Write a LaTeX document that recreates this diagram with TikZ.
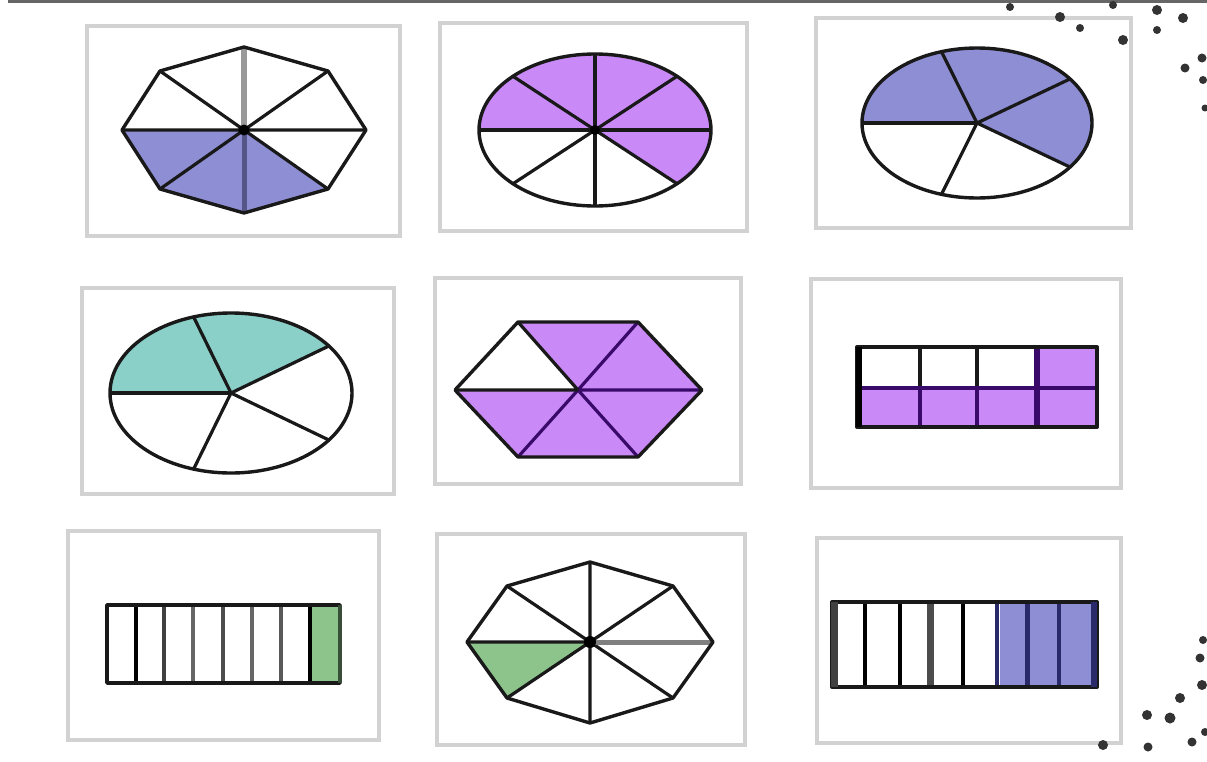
\documentclass[tikz,border=0pt]{standalone}
\usetikzlibrary{calc}
\definecolor{frameg}{HTML}{D2D2D2}
\definecolor{peri}{HTML}{8E8ED4}
\definecolor{lilac}{HTML}{C98AF7}
\definecolor{teal2}{HTML}{8ACFC8}
\definecolor{green2}{HTML}{8CC48C}
\definecolor{navy2}{HTML}{2A2A6A}
\definecolor{dpurple}{HTML}{3A0A6A}
\tikzset{
  panel/.style={draw=frameg, line width=4pt, fill=white},
  edge/.style={draw=black!90, line width=3.4pt, line join=round},
  spoke/.style={draw=black!90, line width=3.2pt},
  hub/.style={fill=black},
  dotmark/.style={fill=black!80}
}
\begin{document}
\begin{tikzpicture}[x=1pt,y=-1pt]
\path[fill=white] (0,0) rectangle (1207,761);
\useasboundingbox (0,0) rectangle (1207,761);
% top rule
\draw[draw=black!60, line width=3.5pt] (8,1.5) -- (1207,1.5);

% ---------- panel frames ----------
\draw[panel] (87,26) rectangle (400,236);
\draw[panel] (440,23) rectangle (747,231);
\draw[panel] (816,18) rectangle (1131,228);
\draw[panel] (82,288) rectangle (394,494);
\draw[panel] (435,278) rectangle (741,484);
\draw[panel] (811,279) rectangle (1121,488);
\draw[panel] (68,531) rectangle (379,740);
\draw[panel] (437,534) rectangle (745,745);
\draw[panel] (817,538) rectangle (1121,743);

% ---------- panel 1: octagon, 3/8 ----------
\coordinate (oa) at (244,130);
\coordinate (oa0) at (366,130);
\coordinate (oa1) at (328,189);
\coordinate (oa2) at (244,213);
\coordinate (oa3) at (160,189);
\coordinate (oa4) at (122,130);
\coordinate (oa5) at (160,71);
\coordinate (oa6) at (244,47);
\coordinate (oa7) at (328,71);
\fill[peri] (oa) -- (oa1) -- (oa2) -- (oa3) -- (oa4) -- cycle;
\draw[spoke] (oa) -- (oa0) (oa) -- (oa1) (oa) -- (oa3) (oa) -- (oa4) (oa) -- (oa5) (oa) -- (oa7);
\draw[draw=black!40, line width=5.5pt] (oa) -- (oa6);
\draw[draw=navy2!80, line width=5pt] (oa) -- (oa2);
\draw[edge] (oa0) -- (oa1) -- (oa2) -- (oa3) -- (oa4) -- (oa5) -- (oa6) -- (oa7) -- cycle;
\fill[hub] (oa) circle (5.5);

% ---------- panel 2: ellipse, 5/8 ----------
\coordinate (eb) at (595,130);
\begin{scope}
  \clip (eb) -- ($(eb)+(45:348 and 228)$) -- ($(eb)+(0:348 and 228)$) -- ($(eb)+(-45:348 and 228)$) -- ($(eb)+(-90:348 and 228)$) -- ($(eb)+(-135:348 and 228)$) -- ($(eb)+(-180:348 and 228)$) -- cycle;
  \fill[lilac] (eb) ellipse (116 and 76);
\end{scope}
\foreach \a in {0,45,...,315}{
  \draw[spoke] (eb) -- ($(eb)+(\a:116 and 76)$);
}
\draw[edge] (eb) ellipse (116 and 76);
\fill[hub] (eb) circle (5);

% ---------- panel 3: ellipse, 3/5 ----------
\coordinate (ec) at (977,123);
\begin{scope}
  \clip (ec) -- ($(ec)+(36:345 and 225)$) -- ($(ec)+(-36:345 and 225)$) -- ($(ec)+(-108:345 and 225)$) -- ($(ec)+(-180:345 and 225)$) -- cycle;
  \fill[peri] (ec) ellipse (115 and 75);
\end{scope}
\foreach \a in {36,108,180,252,324}{
  \draw[spoke] (ec) -- ($(ec)+(\a:115 and 75)$);
}
\draw[edge] (ec) ellipse (115 and 75);

% ---------- panel 4: ellipse, 2/5 ----------
\coordinate (ed) at (231,393);
\begin{scope}
  \clip (ed) -- ($(ed)+(-36:363 and 240)$) -- ($(ed)+(-108:363 and 240)$) -- ($(ed)+(-180:363 and 240)$) -- cycle;
  \fill[teal2] (ed) ellipse (121 and 80);
\end{scope}
\foreach \a in {36,108,180,252,324}{
  \draw[spoke] (ed) -- ($(ed)+(\a:121 and 80)$);
}
\draw[edge] (ed) ellipse (121 and 80);

% ---------- panel 5: hexagon, 5/6 ----------
\coordinate (hx) at (578,390);
\coordinate (hx0) at (702,390);
\coordinate (hx1) at (638,457);
\coordinate (hx2) at (518,457);
\coordinate (hx3) at (455,390);
\coordinate (hx4) at (518,322);
\coordinate (hx5) at (638,322);
\fill[lilac] (hx) -- (hx4) -- (hx5) -- (hx0) -- (hx1) -- (hx2) -- (hx3) -- cycle;
\draw[spoke, draw=dpurple] (hx) -- (hx0) (hx) -- (hx1) (hx) -- (hx2) (hx) -- (hx5);
\draw[spoke] (hx) -- (hx3) (hx) -- (hx4);
\draw[edge] (hx0) -- (hx1) -- (hx2) -- (hx3) -- (hx4) -- (hx5) -- cycle;

% ---------- panel 6: 2x4 grid, 5/8 ----------
\fill[lilac] (1037,347) rectangle (1097,388);
\fill[lilac] (857,388) rectangle (1097,427);
\draw[spoke] (920,347) -- (920,388) (977,347) -- (977,388);
\draw[spoke, draw=dpurple] (920,388) -- (920,427) (977,388) -- (977,427);
\draw[draw=dpurple, line width=5.5pt] (1037,347) -- (1037,427);
\draw[spoke, draw=dpurple] (857,388) -- (1097,388);
\draw[edge, line width=4pt] (857,347) rectangle (1097,427);
\draw[draw=black, line width=5.5pt] (859,347) -- (859,427);

% ---------- panel 7: bar of 8, 1/8 ----------
\fill[green2] (310,605) rectangle (340,683);
\foreach \x/\c in {136/black, 164/black!75, 193/black!60, 223/black!70, 252/black!60, 281/black!65, 310/black}{
  \draw[draw=\c, line width=4.5pt] (\x,605) -- (\x,683);
}
\draw[edge, line width=3.8pt] (107,605) rectangle (340,683);
\draw[draw=green2!40!black, line width=3.8pt] (340,605) -- (340,683);

% ---------- panel 8: octagon, 1/8 ----------
\coordinate (og) at (590,642);
\coordinate (og0) at (713,642);
\coordinate (og1) at (673,698);
\coordinate (og2) at (590,723);
\coordinate (og3) at (507,698);
\coordinate (og4) at (467,642);
\coordinate (og5) at (507,586);
\coordinate (og6) at (590,562);
\coordinate (og7) at (673,586);
\fill[green2] (og) -- (og3) -- (og4) -- cycle;
\draw[spoke] (og) -- (og1) (og) -- (og2) (og) -- (og3) (og) -- (og4) (og) -- (og5) (og) -- (og6) (og) -- (og7);
\draw[draw=black!50, line width=5pt] (og) -- (og0);
\draw[edge] (og0) -- (og1) -- (og2) -- (og3) -- (og4) -- (og5) -- (og6) -- (og7) -- cycle;
\fill[hub] (og) circle (6);

% ---------- panel 9: bar of 8, 3/8 ----------
\fill[peri] (1000,602) rectangle (1097,687);
\foreach \x/\c/\w in {865/black/4.5pt, 900/black/4.5pt, 930/black!70/7pt, 963/black/4.5pt, 997/navy2/4.5pt, 1027/navy2/5pt, 1059/navy2/4.5pt}{
  \draw[draw=\c, line width=\w] (\x,602) -- (\x,687);
}
\draw[edge, line width=4pt] (832,602) rectangle (1097,687);
\draw[draw=black!75, line width=7pt] (834,602) -- (834,687);
\draw[draw=navy2, line width=6pt] (1094,602) -- (1094,687);

% ---------- scattered dots ----------
\foreach \p/\r in {(1010,7)/4,(1060,17)/5,(1080,28)/4,(1113,5)/4,(1123,40)/5,(1157,10)/5,(1157,30)/4,(1183,18)/5,(1202,58)/4.5,(1185,68)/4.5,(1203,80)/4,(1205,108)/3.5,
  (1203,640)/4,(1200,658)/4.5,(1202,685)/5,(1180,698)/5,(1170,718)/5.5,(1147,715)/5,(1205,732)/4,(1192,742)/4.5,(1103,745)/5,(1148,747)/4.5}{
  \fill[dotmark] \p circle (\r);
}
\end{tikzpicture}
\end{document}
